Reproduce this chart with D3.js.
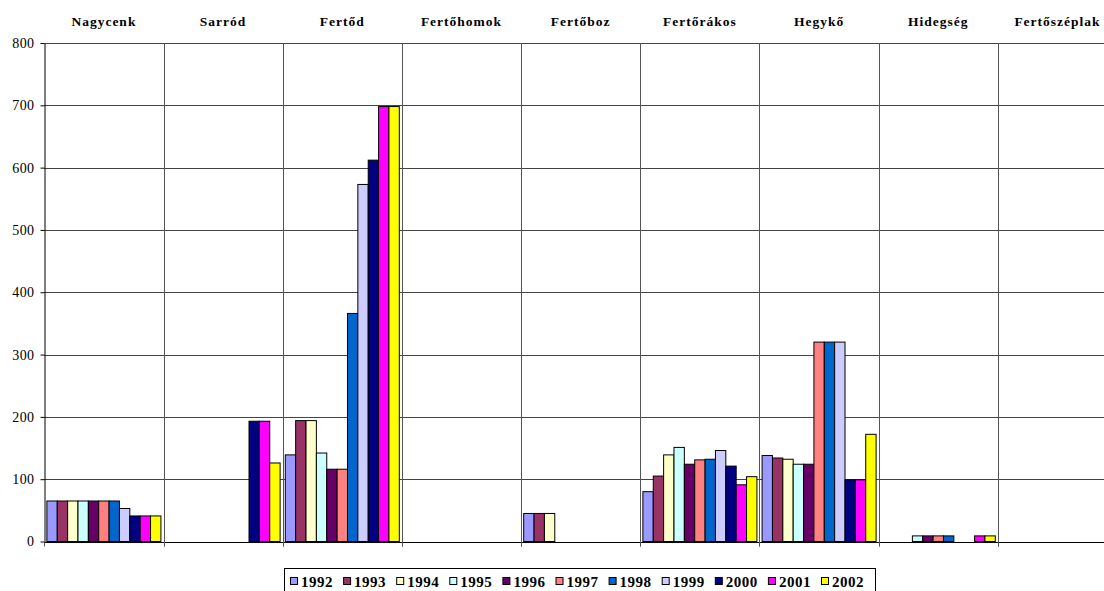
<!DOCTYPE html>
<html>
<head>
<meta charset="utf-8">
<script src="https://cdn.jsdelivr.net/npm/d3@7"></script>
<style>
html,body{margin:0;padding:0;background:#fff;overflow:hidden;}
svg{display:block;}
svg text{font-family:"Liberation Serif","DejaVu Serif",serif !important;}
</style>
</head>
<body>
<svg id="chart" width="1104" height="591"></svg>
<script>
const categories = ["Nagycenk","Sarród","Fertőd","Fertőhomok","Fertőboz","Fertőrákos","Hegykő","Hidegség","Fertőszéplak"];
const years = ["1992","1993","1994","1995","1996","1997","1998","1999","2000","2001","2002"];
const colors = ["#9999FF","#993366","#FFFFCC","#CCFFFF","#660066","#FF8080","#0066CC","#CCCCFF","#000080","#FF00FF","#FFFF00"];
const s1992 = [65, 0, 139, 0, 45, 80, 138, 0, 0];
const s1993 = [65, 0, 194, 0, 45, 105, 134, 0, 0];
const s1994 = [65, 0, 194, 0, 45, 139, 132, 0, 0];
const s1995 = [65, 0, 142, 0, 0, 151, 124, 9, 0];
const s1996 = [65, 0, 116, 0, 0, 124, 124, 9, 0];
const s1997 = [65, 0, 116, 0, 0, 131, 320, 9, 0];
const s1998 = [65, 0, 366, 0, 0, 132, 320, 9, 0];
const s1999 = [53, 0, 573, 0, 0, 146, 320, 0, 0];
const s2000 = [41, 193, 612, 0, 0, 121, 99, 0, 0];
const s2001 = [41, 193, 698, 0, 0, 91, 99, 9, 0];
const s2002 = [41, 126, 698, 0, 0, 104, 172, 9, 0];
const seriesValues = [s1992,s1993,s1994,s1995,s1996,s1997,s1998,s1999,s2000,s2001,s2002];
const yTicks = [0,100,200,300,400,500,600,700,800];

const svg = d3.select("#chart");
const left = 44.3, groupW = 119.2;
const x0 = d3.scaleBand().domain(categories).range([left, left + groupW*categories.length]).padding(0);
const x1 = d3.scaleBand().domain(years).range([0, x0.bandwidth()]).paddingInner(0).paddingOuter(0.25);
const y = d3.scaleLinear().domain([0,800]).range([541.5, 43]);

// horizontal gridlines
svg.append("g").selectAll("line").data(yTicks.filter(d=>d>0)).join("line")
  .attr("x1", left).attr("x2", 1104)
  .attr("y1", d=>Math.round(y(d))+0.5).attr("y2", d=>Math.round(y(d))+0.5)
  .attr("stroke", "#444").attr("stroke-width", 1);

// vertical category separators
svg.append("g").selectAll("line").data(categories.slice(1)).join("line")
  .attr("x1", d=>Math.round(x0(d))+0.5).attr("x2", d=>Math.round(x0(d))+0.5)
  .attr("y1", y(800)).attr("y2", y(0)+5)
  .attr("stroke", "#555").attr("stroke-width", 1);

// bars
const data = [];
categories.forEach((c, ci) => years.forEach((yr, yi) => {
  const v = seriesValues[yi][ci];
  if (v > 0) data.push({c, yr, v, color: colors[yi]});
}));
svg.append("g").selectAll("rect").data(data).join("rect")
  .attr("x", d => x0(d.c) + x1(d.yr))
  .attr("y", d => y(d.v))
  .attr("width", x1.bandwidth())
  .attr("height", d => y(0) - y(d.v))
  .attr("fill", d => d.color)
  .attr("stroke", "#000").attr("stroke-width", 1);

// y axis
const yAxis = d3.axisLeft(y).tickValues(yTicks).tickSize(4).tickPadding(6).tickSizeOuter(0);
const ga = svg.append("g").attr("transform", `translate(${Math.round(left)+0.5},0)`).call(yAxis);
ga.select(".domain").attr("stroke", "#000");
ga.selectAll(".tick line").attr("stroke", "#000");
ga.selectAll(".tick text").attr("font-size", 14)
  .attr("fill", "#000").attr("letter-spacing", "0.4px");

// x axis (bottom line with ticks at boundaries)
svg.append("line").attr("x1", left).attr("x2", 1104)
  .attr("y1", Math.round(y(0))+0.5).attr("y2", Math.round(y(0))+0.5).attr("stroke", "#000");
svg.append("g").selectAll("line").data(categories).join("line")
  .attr("x1", d=>Math.round(x0(d))+0.5).attr("x2", d=>Math.round(x0(d))+0.5)
  .attr("y1", y(0)).attr("y2", y(0)+5).attr("stroke", "#555");

// top category labels
svg.append("g").selectAll("text").data(categories).join("text")
  .attr("x", d => x0(d) + x0.bandwidth()/2)
  .attr("y", 25.7)
  .attr("text-anchor", "middle")
  .attr("font-weight", "bold").attr("font-size", 13.5).attr("letter-spacing", "1px")
  .text(d => d);

// legend
const lg = svg.append("g");
lg.append("rect").attr("x", 284.5).attr("y", 568.5).attr("width", 591).attr("height", 24)
  .attr("fill", "#fff").attr("stroke", "#000");
const item = lg.selectAll("g").data(years).join("g")
  .attr("transform", (d,i) => `translate(${290 + i*53.1},0)`);
item.append("rect").attr("x", 0.5).attr("y", 577.5).attr("width", 7).attr("height", 7)
  .attr("fill", (d,i) => colors[i]).attr("stroke", "#000");
item.append("text").attr("x", 11).attr("y", 587.3)
  .attr("font-weight", "bold").attr("font-size", 15).attr("letter-spacing", "0.5px")
  .text(d => d);
</script>
</body>
</html>
